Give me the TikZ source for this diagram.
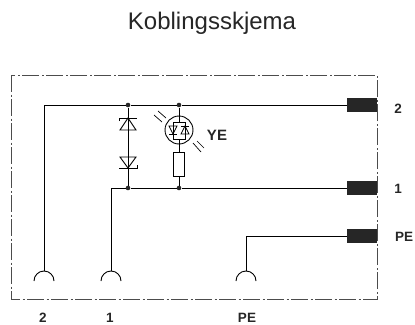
\documentclass[tikz,border=0pt]{standalone}
\usepackage{fontspec}
\setmainfont{Liberation Sans}
\tikzset{
	wire/.style={line width=.9pt},
	thin wire/.style={line width=.6pt},
	joint/.style={circle,fill=black!85,inner sep=0pt,minimum size=4.6pt},
	plug/.style={fill=black!85,draw=none,inner sep=0pt,minimum width=30pt,minimum height=14pt},
	pinlabel/.style={font=\bfseries\fontsize{13.5pt}{14pt}\selectfont,text=black!85,anchor=base},
	ray/.style={line width=.7pt}
}
\begin{document}
\begin{tikzpicture}[x=1pt,y=-1pt]
	\useasboundingbox (0,0) rectangle (415,324);
	\node[font=\fontsize{24pt}{26pt}\selectfont,text=black!85,anchor=base] (title) at (212,29) {Koblingsskjema};
	% frame
	\draw[line width=.5pt,black!70,dash pattern=on 17pt off 2.5pt on 2pt off 2.5pt] (11,75) rectangle (377,299);
	% plugs
	\node[plug] (P2) at (362,105) {};
	\node[plug] (P1) at (362,188) {};
	\node[plug] (PP) at (362,236) {};
	% joints
	\node[joint] (JA) at (128,105) {};
	\node[joint] (JB) at (179,105) {};
	\node[joint] (JC) at (128,188) {};
	\node[joint] (JD) at (179,188) {};
	% pin ends
	\coordinate (S2) at (44,271);
	\coordinate (S1) at (111,271);
	\coordinate (SP) at (246,271);
	\draw[wire] (34,281) arc (180:360:10);
	\draw[wire] (101,281) arc (180:360:10);
	\draw[wire] (236,281) arc (180:360:10);
	% wires
	\draw[wire] (S2) |- (JA);
	\draw[wire] (JA)--(JB);
	\draw[wire] (JB)--(P2);
	\draw[wire] (S1) |- (JC);
	\draw[wire] (JC)--(JD);
	\draw[wire] (JD)--(P1);
	\draw[thin wire] (SP) |- (PP);
	\draw[wire] (JA)--(JC);
	% diodes
	\draw[wire] (120,130)--(136,130)--(128,118)--cycle;
	\draw[wire] (119,121)--(119,118)--(137,118);
	\draw[wire] (120,157)--(136,157)--(128,168)--cycle;
	\draw[wire] (119,168)--(137,168)--(137,165);
	% led
	\node[draw,wire,circle,minimum size=28pt,inner sep=0pt] (LED) at (179,130) {};
	\node[draw,wire,minimum width=11pt,minimum height=24pt,inner sep=0pt,fill=white] (R) at (179,164) {};
	\draw[wire] (JB)--(LED);
	\draw[wire] (LED)--(R);
	\draw[wire] (R)--(JD);
	\draw[wire] (173,122) rectangle (185,139);
	\draw[wire] (179,116)--(179,122);
	\draw[wire] (179,139)--(179,144);
	\draw[ray] (169,126)--(177,126)--(173,134)--cycle;
	\draw[ray] (169,134)--(177,134);
	\draw[ray] (181,134)--(189,134)--(185,126)--cycle;
	\draw[ray] (181,126)--(189,126);
	% rays
	\draw[ray] (154,115)--(162,122);
	\draw[ray] (158,111)--(166,118);
	\draw[ray] (193,143)--(201,152);
	\draw[ray] (197,141)--(204,148);
	% labels
	\node[pinlabel,font=\bfseries\fontsize{15pt}{16pt}\selectfont] (YE) at (217,140) {YE};
	\node[pinlabel] (L2) at (398,113) {2};
	\node[pinlabel] (L1) at (398,193) {1};
	\node[pinlabel] (LP) at (404,241) {PE};
	\node[pinlabel] (B2) at (43,322.5) {2};
	\node[pinlabel] (B1) at (110,322.5) {1};
	\node[pinlabel] (BP) at (247,322.5) {PE};
\end{tikzpicture}
\end{document}
